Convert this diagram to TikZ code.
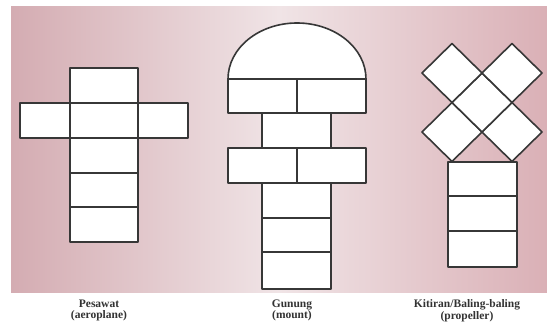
\documentclass[tikz,border=0pt]{standalone}
\usepackage{fontspec}
\setmainfont{Liberation Serif}
\definecolor{pinkL}{RGB}{212,172,178}
\definecolor{pinkM}{RGB}{240,228,230}
\definecolor{pinkR}{RGB}{218,176,182}
\definecolor{edge}{RGB}{55,55,55}
\tikzset{
  cell/.style={draw=edge, fill=white, line width=1.6pt, line join=round},
  lbl/.style={font=\fontsize{11.5}{11.5}\selectfont\bfseries, text=black!80, align=center, inner sep=0pt}
}
\begin{document}
\begin{tikzpicture}[x=1pt,y=1pt]
\useasboundingbox (0,0) rectangle (547,326);
\fill[white] (0,0) rectangle (547,326);
% background band
\shade[left color=pinkL, right color=pinkR, middle color=pinkM] (11,33) rectangle (547,319);
% ---------- Pesawat ----------
\foreach \ya/\yb in {84/119,119/153,153/188,188/223,223/258}
  \draw[cell] (70,\ya) rectangle (138,\yb);
\draw[cell] (20,188) rectangle (70,223);
\draw[cell] (138,188) rectangle (188,223);
% ---------- Gunung ----------
\draw[cell] (228,247) arc[start angle=180, end angle=0, x radius=69, y radius=56] -- cycle;
\draw[cell] (228,213) rectangle (297,247);
\draw[cell] (297,213) rectangle (366,247);
\draw[cell] (262,178) rectangle (331,213);
\draw[cell] (228,143) rectangle (297,178);
\draw[cell] (297,143) rectangle (366,178);
\foreach \ya/\yb in {37/74,74/108,108/143}
  \draw[cell] (262,\ya) rectangle (331,\yb);
% ---------- Kitiran ----------
\foreach \ya/\yb in {59/95,95/130,130/164}
  \draw[cell] (448,\ya) rectangle (517,\yb);
\foreach \cx/\cy in {452/194,512/194,482/223.5,452/253,512/253}
  \draw[cell] (\cx-30,\cy) -- (\cx,\cy+29.5) -- (\cx+30,\cy) -- (\cx,\cy-29.5) -- cycle;
% ---------- labels ----------
\node[lbl] (l1) at (99,15.5) {Pesawat\\(aeroplane)};
\node[lbl] (l2) at (292,15.5) {Gunung\\(mount)};
\node[lbl] (l3) at (467,15.5) {Kitiran/Baling-baling\\(propeller)};
\end{tikzpicture}
\end{document}
